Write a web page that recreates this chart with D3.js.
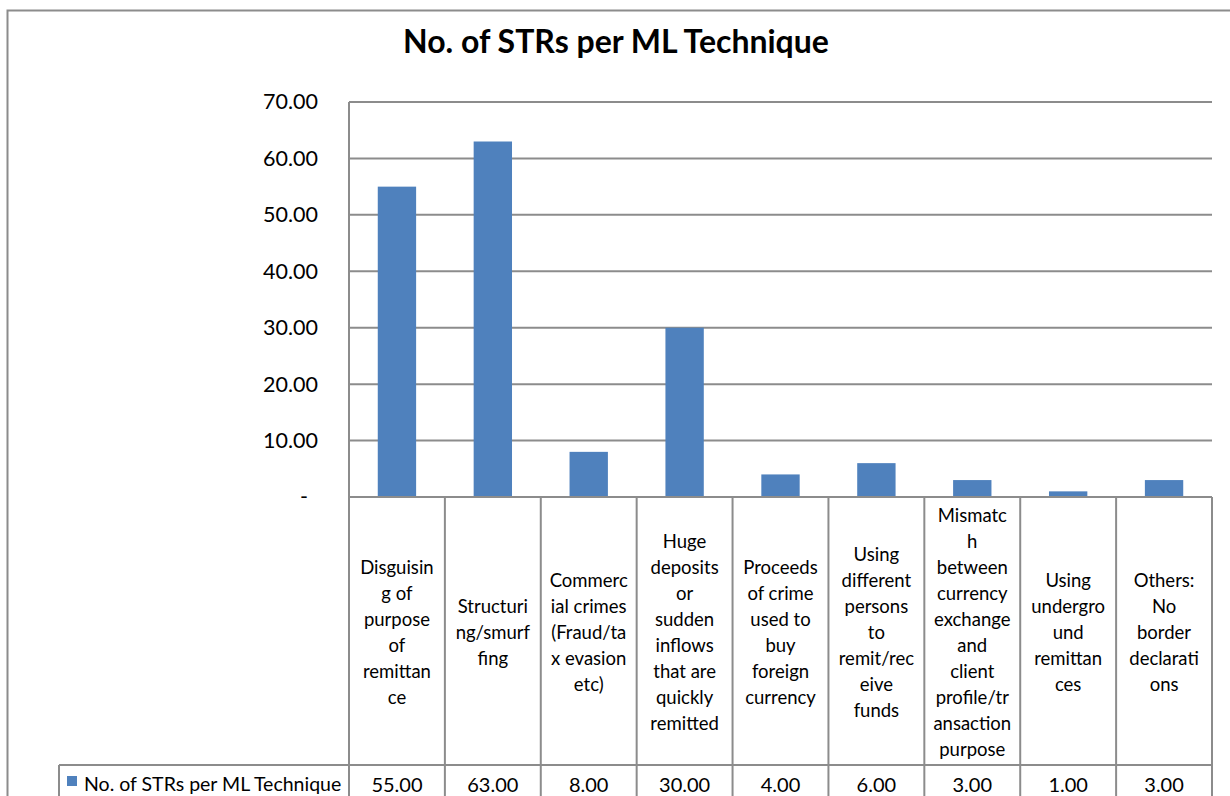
<!DOCTYPE html>
<html><head><meta charset="utf-8">
<script src="https://cdn.jsdelivr.net/npm/d3@7"></script>
<style>
html,body{margin:0;padding:0;background:#fff;}
svg{display:block;}
text{font-family:Lato,"Open Sans",sans-serif;fill:#000;}
</style></head>
<body>
<svg id="chart" width="1230" height="796"></svg>
<script>
const title = "No. of STRs per ML Technique";
const seriesName = "No. of STRs per ML Technique";
const categoryLines = [
  ["Disguisin","g of","purpose","of","remittan","ce"],
  ["Structuri","ng/smurf","fing"],
  ["Commerc","ial crimes","(Fraud/ta","x evasion","etc)"],
  ["Huge","deposits","or","sudden","inflows","that are","quickly","remitted"],
  ["Proceeds","of crime","used to","buy","foreign","currency"],
  ["Using","different","persons","to","remit/rec","eive","funds"],
  ["Mismatc","h","between","currency","exchange","and","client","profile/tr","ansaction","purpose"],
  ["Using","undergro","und","remittan","ces"],
  ["Others:","No","border","declarati","ons"]
];
const values = [55, 63, 8, 30, 4, 6, 3, 1, 3];
const yTicks = [0, 10, 20, 30, 40, 50, 60, 70];

const svg = d3.select("#chart");
const L = 349, R = 1212, T = 102, B = 497, HB = 765, VB = 820, LegL = 59;
const grid = "#8c8c8c";
const barColor = "#4F81BD";

// outer chart border
svg.append("rect").attr("x", 7.5).attr("y", 10.5).attr("width", 1260).attr("height", 820)
  .attr("fill", "none").attr("stroke", grid).attr("stroke-width", 2);

svg.append("text").attr("x", 616).attr("y", 53).attr("text-anchor", "middle")
  .style("font-size", "32px").style("font-weight", "bold").text(title);

const x = d3.scaleBand().domain(d3.range(values.length)).range([L, R])
  .paddingInner(0.6).paddingOuter(0.3);
const y = d3.scaleLinear().domain([0, 70]).range([B, T]);

// gridlines
svg.append("g").selectAll("line").data(yTicks.filter(d => d > 0)).join("line")
  .attr("x1", L).attr("x2", R).attr("y1", d => y(d)).attr("y2", d => y(d))
  .attr("stroke", grid).attr("stroke-width", 2);

// y axis labels
const yAxis = d3.axisLeft(y).tickValues(yTicks).tickSize(0).tickPadding(31)
  .tickFormat(d => d === 0 ? "-" : d3.format(".2f")(d));
const ya = svg.append("g").attr("transform", `translate(${L},0)`).call(yAxis);
ya.select(".domain").remove();
ya.selectAll("text").style("font-family", "Lato, sans-serif").style("font-size", "21.5px").attr("fill", "#000");
ya.selectAll(".tick").filter(d => d === 0).select("text").attr("dx", -10);

// bars
svg.append("g").selectAll("rect").data(values).join("rect")
  .attr("x", (d, i) => x(i)).attr("width", x.bandwidth())
  .attr("y", d => y(d)).attr("height", d => y(0) - y(d))
  .attr("fill", barColor);

// table lines
const step = x.step();
const cols = d3.range(values.length + 1).map(i => L + i * step);
const tg = svg.append("g").attr("stroke", grid).attr("stroke-width", 2);
cols.forEach((cx, i) => {
  tg.append("line").attr("x1", cx).attr("x2", cx).attr("y1", i === 0 ? T : B).attr("y2", VB);
});
tg.append("line").attr("x1", L).attr("x2", R).attr("y1", B).attr("y2", B);
tg.append("line").attr("x1", LegL).attr("x2", R).attr("y1", HB).attr("y2", HB);
tg.append("line").attr("x1", LegL).attr("x2", LegL).attr("y1", HB).attr("y2", VB);

// category labels
const lh = 26;
categoryLines.forEach((lines, i) => {
  const cx = L + (i + 0.5) * step;
  const cy = (B + HB) / 2 + 2;
  const t = svg.append("text").attr("text-anchor", "middle").style("font-size", "18.5px");
  lines.forEach((ln, j) => {
    t.append("tspan").attr("x", cx)
      .attr("y", cy + (j - (lines.length - 1) / 2) * lh + 6).text(ln);
  });
});

// values row
svg.append("g").selectAll("text").data(values).join("text")
  .attr("x", (d, i) => L + (i + 0.5) * step).attr("y", 792)
  .attr("text-anchor", "middle").style("font-size", "20px")
  .text(d => d3.format(".2f")(d));

// legend cell
svg.append("rect").attr("x", 67).attr("y", 776).attr("width", 10).attr("height", 10).attr("fill", barColor);
svg.append("text").attr("x", 84).attr("y", 791).style("font-size", "19.5px").text(seriesName);
</script>
</body></html>
